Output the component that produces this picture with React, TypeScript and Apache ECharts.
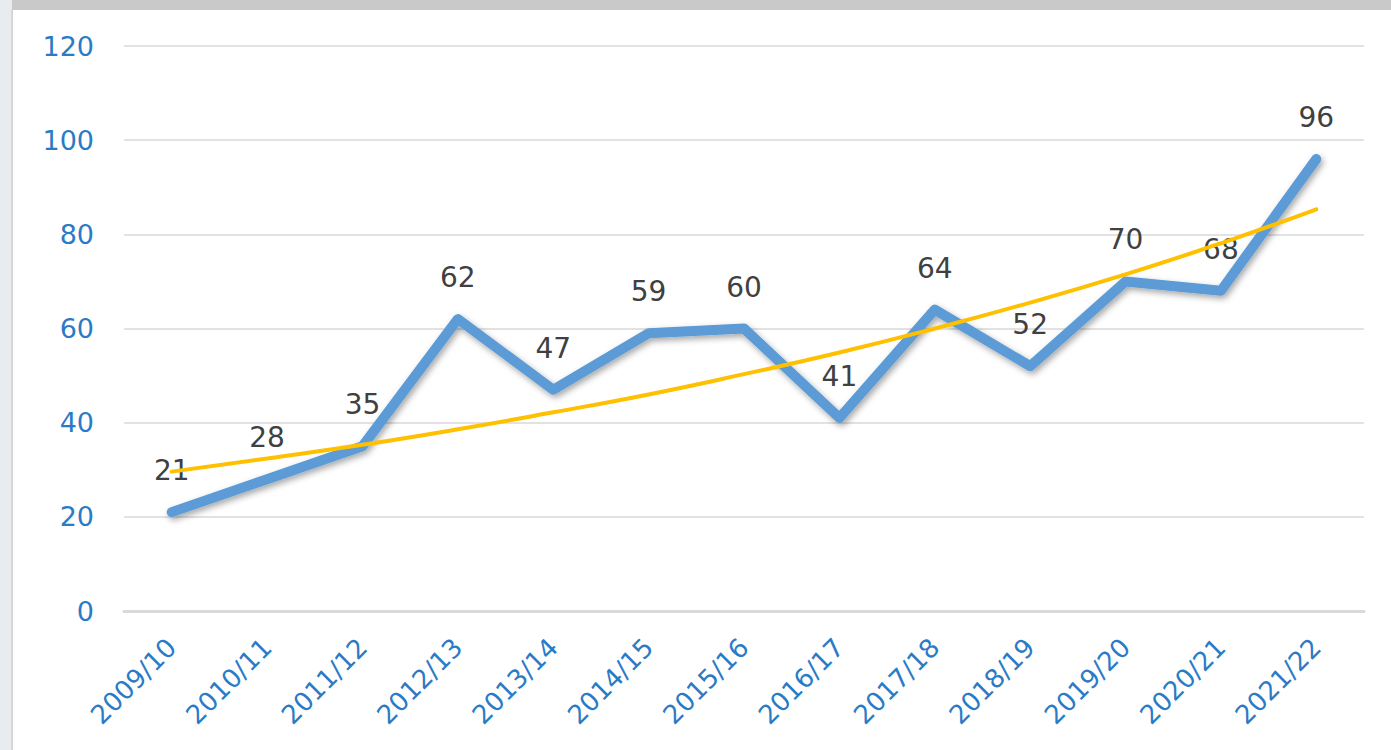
import React, { useEffect, useRef } from "react";
import * as echarts from "echarts";

const categories = [
  "2009/10", "2010/11", "2011/12", "2012/13", "2013/14", "2014/15", "2015/16",
  "2016/17", "2017/18", "2018/19", "2019/20", "2020/21", "2021/22",
];
const values = [21, 28, 35, 62, 47, 59, 60, 41, 64, 52, 70, 68, 96];
// exponential trendline values
const trendValues = [29.6, 32.4, 35.3, 38.6, 42.2, 46.0, 50.3, 54.9, 60.0, 65.5, 71.5, 78.1, 85.3];

const BLUE_TEXT = "#2a7bc6";
const FONT = "DejaVu Sans";

export default function App() {
  const ref = useRef<HTMLDivElement>(null);
  useEffect(() => {
    if (!ref.current) return;
    const chart = echarts.init(ref.current, undefined, { renderer: "svg" });
    chart.setOption({
      animation: false,
      backgroundColor: "#ffffff",
      graphic: [
        { type: "rect", left: 0, top: 0, shape: { width: 1391, height: 10 }, style: { fill: "#c9c9c9" }, z: 100 },
        { type: "rect", left: 0, top: 0, shape: { width: 12, height: 750 }, style: { fill: "#e9ecef" }, z: 100 },
        { type: "rect", left: 11, top: 10, shape: { width: 2, height: 740 }, style: { fill: "#d6d6d6" }, z: 100 },
      ],
      grid: { left: 124, right: 27, top: 46, bottom: 139, containLabel: false },
      xAxis: {
        type: "category",
        data: categories,
        boundaryGap: true,
        axisLine: { lineStyle: { color: "#d9d9d9", width: 3 } },
        axisTick: { show: false },
        axisLabel: {
          rotate: 45,
          color: BLUE_TEXT,
          fontSize: 26,
          fontFamily: FONT,
          margin: 32,
        },
      },
      yAxis: {
        type: "value",
        min: 0,
        max: 120,
        interval: 20,
        axisLine: { show: false },
        axisTick: { show: false },
        splitLine: { lineStyle: { color: "#d9d9d9", width: 1.5 } },
        axisLabel: {
          color: BLUE_TEXT,
          fontSize: 27,
          fontFamily: FONT,
          margin: 30,
        },
      },
      series: [
        {
          type: "line",
          data: values,
          symbol: "circle",
          symbolSize: 1,
          showSymbol: true,
          itemStyle: { color: "rgba(0,0,0,0)" },
          z: 2,
          lineStyle: {
            color: "#5b9bd5",
            width: 10,
            cap: "round",
            join: "round",
            shadowColor: "rgba(0,0,0,0.35)",
            shadowBlur: 6,
            shadowOffsetX: 2,
            shadowOffsetY: 3,
          },
          label: {
            show: true,
            position: "top",
            distance: 27,
            color: "#404040",
            fontSize: 28,
            fontFamily: FONT,
          },
          labelLayout: { hideOverlap: false },
        },
        {
          type: "line",
          data: trendValues,
          symbol: "none",
          smooth: true,
          z: 5,
          lineStyle: { color: "#ffc000", width: 4, cap: "round" },
          silent: true,
        },
      ],
    });
    return () => chart.dispose();
  }, []);
  return (
    <div
      ref={ref}
      style={{ position: "fixed", left: 0, top: 0, width: 1391, height: 750 }}
    />
  );
}
